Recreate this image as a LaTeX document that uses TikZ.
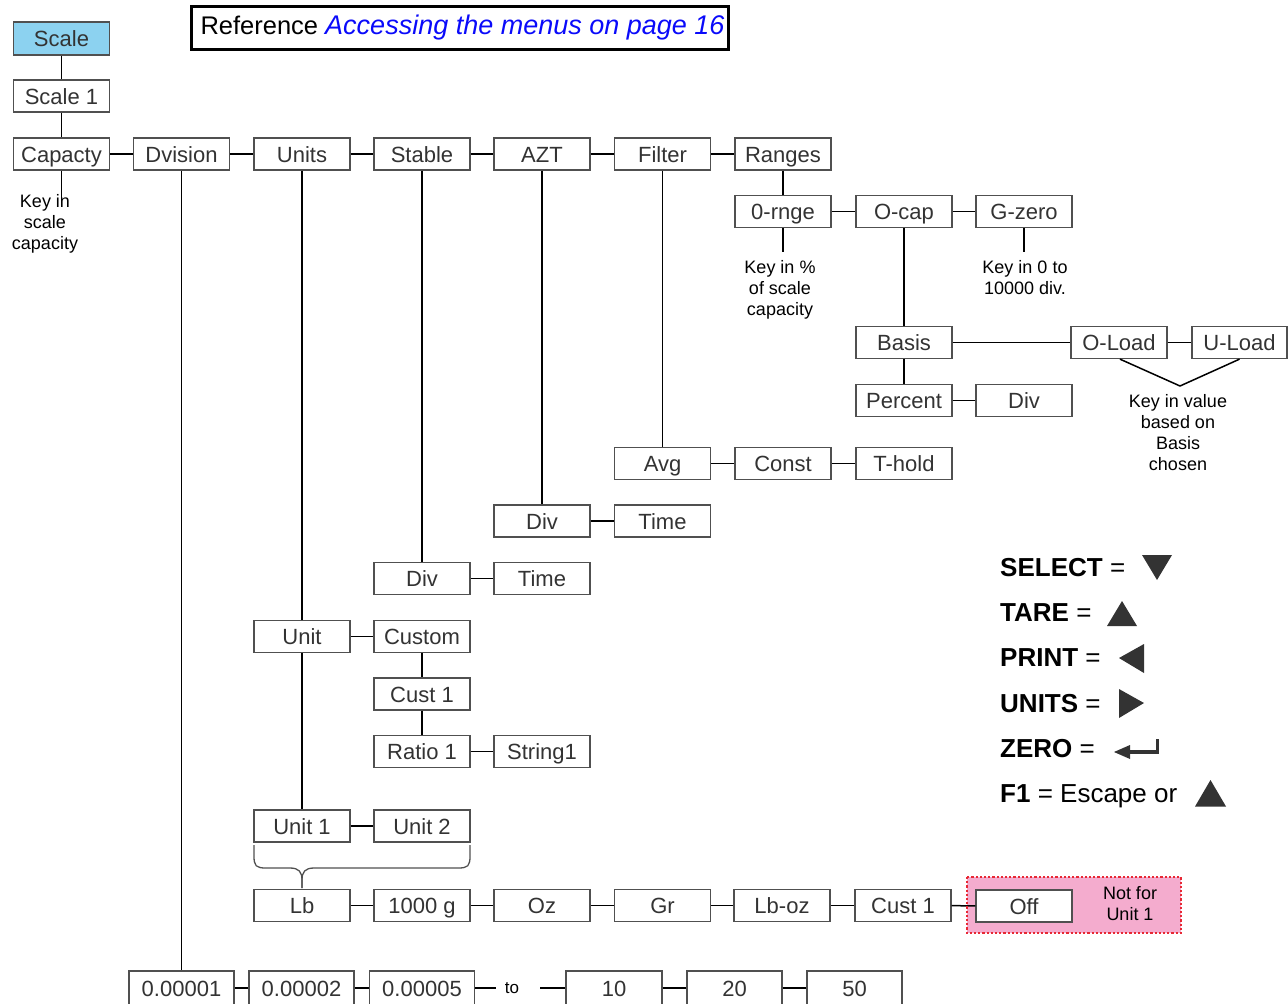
\documentclass[tikz,border=0pt]{standalone}
\usepackage{fontspec}
\setmainfont{Liberation Sans}
\definecolor{boxline}{RGB}{80,80,80}
\definecolor{boxtext}{RGB}{51,51,51}
\definecolor{scalefill}{RGB}{140,210,240}
\definecolor{pinkfill}{RGB}{244,172,206}
\definecolor{dotred}{RGB}{232,40,52}
\definecolor{linkblue}{RGB}{10,10,250}
\definecolor{keygray}{RGB}{51,51,51}
\tikzset{
  bx/.style={draw=boxline, line width=1.3pt, fill=white, minimum width=96pt,
    minimum height=32pt, inner sep=0pt, text=boxtext, text height=16pt, text depth=0pt,
    font=\fontsize{22}{26}\selectfont},
  wide/.style={minimum width=105pt, minimum height=34pt},
  note/.style={align=center, anchor=north, inner sep=0pt, text=black,
    font=\fontsize{18}{21}\selectfont},
  link/.style={line width=1.5pt, draw=black},
  brace/.style={line width=1.3pt, draw=boxline},
  legend/.style={anchor=base west, inner sep=0pt, text=black,
    font=\fontsize{26}{30}\selectfont},
  key/.style={fill=keygray, draw=none}
}
\begin{document}
\begin{tikzpicture}[x=1pt, y=-1pt]
\useasboundingbox (0,0) rectangle (1288,1004);

% area of the options that do not apply to Unit 1
\fill[pinkfill] (967,877) rectangle (1181,933);

% title reference
\node[draw=black, line width=3pt, minimum width=537pt, minimum height=43pt, inner sep=0pt]
  (ref) at (459.5,27.5) {\hspace*{6pt}\fontsize{25.5}{28}\selectfont Reference \textcolor{linkblue}{\fontsize{27}{28}\selectfont\itshape Accessing the menus on page 16}};

% top of the menu tree
\node[bx, fill=scalefill, minimum height=33pt] (scale) at (61.5,38.5) {Scale};
\node[bx] (scaleone) at (61.5,96) {Scale 1};

% main menu row
\node[bx] (capacity) at (61.5,154) {Capacty};
\node[bx] (dvision) at (181.5,154) {Dvision};
\node[bx] (units) at (302,154) {Units};
\node[bx] (stable) at (422,154) {Stable};
\node[bx] (azt) at (542,154) {AZT};
\node[bx] (filter) at (662.5,154) {Filter};
\node[bx] (ranges) at (783,154) {Ranges};

% ranges branch
\node[bx] (orange) at (783,211.5) {0-rnge};
\node[bx] (ocap) at (904,211.5) {O-cap};
\node[bx] (gzero) at (1024,211.5) {G-zero};
\node[bx] (basis) at (904,342.5) {Basis};
\node[bx] (oload) at (1119,342.5) {O-Load};
\node[bx, minimum width=95pt] (uload) at (1239.5,342.5) {U-Load};
\node[bx] (percent) at (904,400.5) {Percent};
\node[bx] (pdiv) at (1024,400.5) {Div};

% filter branch
\node[bx] (avg) at (662.5,463.5) {Avg};
\node[bx] (const) at (783,463.5) {Const};
\node[bx] (thold) at (904,463.5) {T-hold};

% AZT branch
\node[bx] (adiv) at (542,521) {Div};
\node[bx] (atime) at (662.5,521) {Time};

% stable branch
\node[bx] (sdiv) at (422,578.5) {Div};
\node[bx] (stime) at (542,578.5) {Time};

% units branch
\node[bx] (unit) at (302,636.5) {Unit};
\node[bx] (custom) at (422,636.5) {Custom};
\node[bx] (custone) at (422,694) {Cust 1};
\node[bx] (ratio) at (422,751.5) {Ratio 1};
\node[bx] (string) at (542,751.5) {String1};
\node[bx] (unitone) at (302,826) {Unit 1};
\node[bx] (unittwo) at (422,826) {Unit 2};

% unit choices
\node[bx] (lb) at (302,905.5) {Lb};
\node[bx] (kg) at (422,905.5) {1000 g};
\node[bx] (oz) at (542,905.5) {Oz};
\node[bx] (gr) at (662.5,905.5) {Gr};
\node[bx] (lboz) at (782,905.5) {Lb-oz};
\node[bx] (custb) at (903,905.5) {Cust 1};
\node[bx] (off) at (1024,906) {Off};
\node[note, font=\fontsize{18}{21}\selectfont] (notfor) at (1130,886.5) {Not for\\Unit 1};

% division values
\node[bx, wide] (dA) at (181.5,988) {0.00001};
\node[bx, wide] (dB) at (301.5,988) {0.00002};
\node[bx, wide] (dC) at (422,988) {0.00005};
\node[inner sep=0pt, font=\fontsize{17}{20}\selectfont, text height=12pt, text depth=0pt] (to) at (512,987) {to};
\coordinate (toL) at (496,988);
\coordinate (toR) at (540,988);
\node[bx, minimum height=34pt] (ten) at (614,988) {10};
\node[bx, minimum height=34pt, minimum width=95pt] (twenty) at (734.5,988) {20};
\node[bx, minimum height=34pt, minimum width=95pt] (fifty) at (854.5,988) {50};

% explanatory notes
\node[note] (capnote) at (45,194.5) {Key in\\scale\\capacity};
\node[note] (rngnote) at (780,260.5) {Key in \%\\of scale\\capacity};
\node[note] (zeronote) at (1025,260.5) {Key in 0 to\\10000 div.};
\node[note] (loadnote) at (1178,394.5) {Key in value\\based on\\Basis\\chosen};
\coordinate (capend) at (61.5,199);
\coordinate (rngend) at (783,252);
\coordinate (zeroend) at (1024,252);
\coordinate (vtip) at (1180,386);

% connectors
\draw[link] (scale) -- (scaleone);
\draw[link] (scaleone) -- (capacity);
\draw[link] (capacity) -- (dvision);
\draw[link] (dvision) -- (units);
\draw[link] (units) -- (stable);
\draw[link] (stable) -- (azt);
\draw[link] (azt) -- (filter);
\draw[link] (filter) -- (ranges);
\draw[link] (capacity.south) -- (capend);
\draw[link] (ranges) -- (orange);
\draw[link] (orange) -- (ocap);
\draw[link] (ocap) -- (gzero);
\draw[link] (orange.south) -- (rngend);
\draw[link] (gzero.south) -- (zeroend);
\draw[link] (ocap) -- (basis);
\draw[link] (basis) -- (oload);
\draw[link] (oload) -- (uload);
\draw[link] (basis) -- (percent);
\draw[link] (percent) -- (pdiv);
\draw[link] ([xshift=1pt]oload.south) -- (vtip) -- (uload.south);
\draw[link] (filter) -- (avg);
\draw[link] (avg) -- (const);
\draw[link] (const) -- (thold);
\draw[link] (azt) -- (adiv);
\draw[link] (adiv) -- (atime);
\draw[link] (stable) -- (sdiv);
\draw[link] (sdiv) -- (stime);
\draw[link] (units) -- (unit);
\draw[link] (unit) -- (custom);
\draw[link] (custom) -- (custone);
\draw[link] (custone) -- (ratio);
\draw[link] (ratio) -- (string);
\draw[link] (unit) -- (unitone);
\draw[link] (unitone) -- (unittwo);
\draw[link] (lb) -- (kg);
\draw[link] (kg) -- (oz);
\draw[link] (oz) -- (gr);
\draw[link] (gr) -- (lboz);
\draw[link] (lboz) -- (custb);
\draw[link] (custb) -- (off);
\draw[link] (dvision.south) -- (dA.north);
\draw[link] (dA) -- (dB);
\draw[link] (dB) -- (dC);
\draw[link] (dC.east) -- (toL);
\draw[link] (toR) -- (ten.west);
\draw[link] (ten) -- (twenty);
\draw[link] (twenty) -- (fifty);

% brace joining Unit 1 and Unit 2 to the unit list
\coordinate (bl) at (254,845);
\coordinate (br) at (470,845);
\coordinate (bt) at (302,888);
\draw[brace] (bl) -- (254,856) .. controls (254,866) and (256,868) .. (266,868) -- (290,868)
  .. controls (299,868) and (302,872) .. (302,880) -- (bt);
\draw[brace] (br) -- (470,856) .. controls (470,866) and (468,868) .. (458,868) -- (314,868)
  .. controls (305,868) and (302,872) .. (302,880) -- (bt);

% dotted border of the Unit 2 only area
\draw[dotred, line width=2.2pt, dotted] (967,877) rectangle (1181,933);

% key legend
\node[legend] (lsel) at (1000,576) {\textbf{SELECT} =};
\node[legend] (ltare) at (1000,621) {\textbf{TARE} =};
\node[legend] (lprint) at (1000,666) {\textbf{PRINT} =};
\node[legend] (lunits) at (1000,712) {\textbf{UNITS} =};
\node[legend] (lzero) at (1000,757) {\textbf{ZERO} =};
\node[legend] (lfone) at (1000,802) {\textbf{F1} = Escape or};

\fill[key] (1142,555) -- (1172,555) -- (1157,580) -- cycle;
\fill[key] (1107,626) -- (1137,626) -- (1122,601) -- cycle;
\fill[key] (1119,658) -- (1144,644) -- (1144,673) -- cycle;
\fill[key] (1119,689) -- (1119,718) -- (1144,703) -- cycle;
\draw[keygray, line width=3.5pt] (1157.5,739) -- (1157.5,752) -- (1127,752);
\fill[key] (1114,752) -- (1130,745) -- (1130,759) -- cycle;
\fill[key] (1195,806.5) -- (1226,806.5) -- (1210.5,780) -- cycle;
\end{tikzpicture}
\end{document}
